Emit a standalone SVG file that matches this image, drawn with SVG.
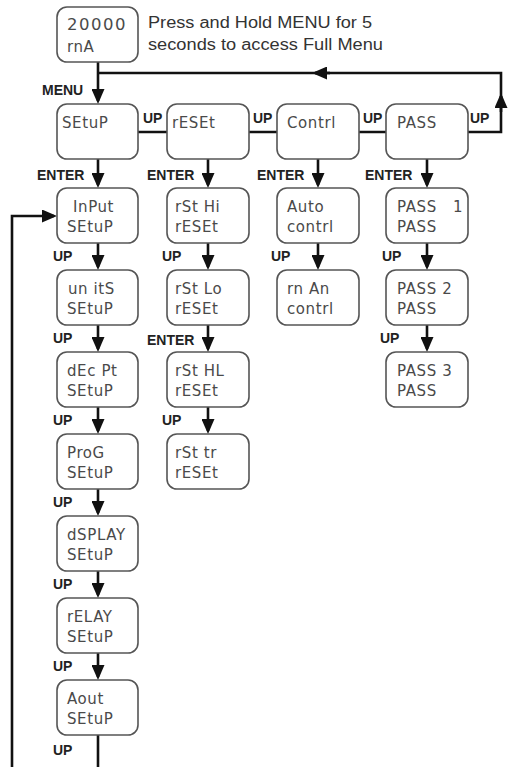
<svg xmlns="http://www.w3.org/2000/svg" width="508" height="767" viewBox="0 0 508 767">
<style>
.box{fill:#fff;stroke:#555;stroke-width:1.6}
.lcd{font-family:"DejaVu Sans",sans-serif;font-size:15px;fill:#4a4a4a;letter-spacing:0.6px}
.lbl{font-family:"Liberation Sans",Arial,sans-serif;font-weight:bold;font-size:14px;fill:#222}
.desc{font-family:"Liberation Sans",Arial,sans-serif;font-size:16px;fill:#333}
.ln{fill:none;stroke:#111;stroke-width:2.6}
.ar{fill:none;stroke:#111;stroke-width:2.6;marker-end:url(#ah)}
</style>
<defs>
<marker id="ah" markerUnits="userSpaceOnUse" markerWidth="15" markerHeight="13" refX="12" refY="6.5" orient="auto"><path d="M0,0 L15,6.5 L0,13 z" fill="#111"/></marker>
</defs>
<rect width="508" height="767" fill="#fff"/>

<g id="connectors">
<path class="ar" d="M98 62 V101"/>
<path class="ln" d="M468 132 H501 V73 H98"/>
<path class="ar" d="M501 112 V96"/>
<path class="ar" d="M330 73 H315"/>
<path class="ln" d="M138 132 H167 M249 132 H277 M359 132 H386"/>
<path class="ar" d="M98 159 V185"/>
<path class="ar" d="M208 159 V185"/>
<path class="ar" d="M318 159 V185"/>
<path class="ar" d="M427 159 V185"/>
<path class="ar" d="M98 243 V267"/>
<path class="ar" d="M98 325 V349"/>
<path class="ar" d="M98 407 V431"/>
<path class="ar" d="M98 489 V513"/>
<path class="ar" d="M98 571 V595"/>
<path class="ar" d="M98 653 V677"/>
<path class="ln" d="M98 735 V767"/>
<path class="ar" d="M12 767 V216 H54"/>
<path class="ar" d="M208 243 V267"/>
<path class="ar" d="M208 325 V349"/>
<path class="ar" d="M208 407 V431"/>
<path class="ar" d="M318 243 V267"/>
<path class="ar" d="M427 243 V267"/>
<path class="ar" d="M427 325 V349"/>
<text class="lbl" x="42" y="95">MENU</text>
<text class="lbl" x="37" y="180">ENTER</text>
<text class="lbl" x="147" y="180">ENTER</text>
<text class="lbl" x="257" y="180">ENTER</text>
<text class="lbl" x="365" y="180">ENTER</text>
<text class="lbl" x="143" y="123">UP</text>
<text class="lbl" x="253" y="123">UP</text>
<text class="lbl" x="363" y="123">UP</text>
<text class="lbl" x="470" y="123">UP</text>
<text class="lbl" x="53" y="261">UP</text>
<text class="lbl" x="53" y="343">UP</text>
<text class="lbl" x="53" y="425">UP</text>
<text class="lbl" x="53" y="507">UP</text>
<text class="lbl" x="53" y="589">UP</text>
<text class="lbl" x="53" y="671">UP</text>
<text class="lbl" x="53" y="755">UP</text>
<text class="lbl" x="162" y="261">UP</text>
<text class="lbl" x="147" y="345">ENTER</text>
<text class="lbl" x="162" y="425">UP</text>
<text class="lbl" x="271" y="261">UP</text>
<text class="lbl" x="382" y="261">UP</text>
<text class="lbl" x="380" y="343">UP</text>
</g>

<g id="note">
<text class="desc" x="148" y="28" textLength="224" lengthAdjust="spacingAndGlyphs">Press and Hold MENU for 5</text>
<text class="desc" x="148" y="50" textLength="235" lengthAdjust="spacingAndGlyphs">seconds to access Full Menu</text>
</g>

<g id="home"><rect class="box" x="57" y="7" width="81" height="55" rx="10"/><text class="lcd" x="67" y="30" style="font-size:16.5px;letter-spacing:1.5px">20000</text><text class="lcd" x="67" y="52">rnA</text></g>

<g id="setup"><rect class="box" x="57" y="104" width="81" height="55" rx="10"/><text class="lcd" x="62" y="128">SEtuP</text></g>
<g id="reset"><rect class="box" x="167" y="104" width="82" height="55" rx="10"/><text class="lcd" x="172" y="128">rESEt</text></g>
<g id="contrl"><rect class="box" x="277" y="104" width="82" height="55" rx="10"/><text class="lcd" x="287" y="128">Contrl</text></g>
<g id="pass"><rect class="box" x="386" y="104" width="82" height="55" rx="10"/><text class="lcd" x="397" y="128">PASS</text></g>

<g id="input"><rect class="box" x="57" y="188" width="81" height="55" rx="10"/><text class="lcd" x="73" y="212">InPut</text><text class="lcd" x="67" y="232">SEtuP</text></g>
<g id="units"><rect class="box" x="57" y="270" width="81" height="55" rx="10"/><text class="lcd" x="68" y="294">un itS</text><text class="lcd" x="67" y="314">SEtuP</text></g>
<g id="decpt"><rect class="box" x="57" y="352" width="81" height="55" rx="10"/><text class="lcd" x="67" y="376">dEc Pt</text><text class="lcd" x="67" y="396">SEtuP</text></g>
<g id="prog"><rect class="box" x="57" y="434" width="81" height="55" rx="10"/><text class="lcd" x="67" y="458">ProG</text><text class="lcd" x="67" y="478">SEtuP</text></g>
<g id="dsplay"><rect class="box" x="57" y="516" width="81" height="55" rx="10"/><text class="lcd" x="67" y="540">dSPLAY</text><text class="lcd" x="67" y="560">SEtuP</text></g>
<g id="relay"><rect class="box" x="57" y="598" width="81" height="55" rx="10"/><text class="lcd" x="67" y="622">rELAY</text><text class="lcd" x="67" y="642">SEtuP</text></g>
<g id="aout"><rect class="box" x="57" y="680" width="81" height="55" rx="10"/><text class="lcd" x="67" y="704">Aout</text><text class="lcd" x="67" y="724">SEtuP</text></g>

<g id="rsthi"><rect class="box" x="167" y="188" width="82" height="55" rx="10"/><text class="lcd" x="175" y="212">rSt Hi</text><text class="lcd" x="175" y="232">rESEt</text></g>
<g id="rstlo"><rect class="box" x="167" y="270" width="82" height="55" rx="10"/><text class="lcd" x="175" y="294">rSt Lo</text><text class="lcd" x="175" y="314">rESEt</text></g>
<g id="rsthl"><rect class="box" x="167" y="352" width="82" height="55" rx="10"/><text class="lcd" x="175" y="376">rSt HL</text><text class="lcd" x="175" y="396">rESEt</text></g>
<g id="rsttr"><rect class="box" x="167" y="434" width="82" height="55" rx="10"/><text class="lcd" x="175" y="458">rSt tr</text><text class="lcd" x="175" y="478">rESEt</text></g>

<g id="auto"><rect class="box" x="277" y="188" width="82" height="55" rx="10"/><text class="lcd" x="287" y="212">Auto</text><text class="lcd" x="287" y="232">contrl</text></g>
<g id="rnan"><rect class="box" x="277" y="270" width="82" height="55" rx="10"/><text class="lcd" x="287" y="294">rn An</text><text class="lcd" x="287" y="314">contrl</text></g>

<g id="pass1"><rect class="box" x="386" y="188" width="82" height="55" rx="10"/><text class="lcd" x="397" y="212">PASS <tspan x="453">1</tspan></text><text class="lcd" x="397" y="232">PASS</text></g>
<g id="pass2"><rect class="box" x="386" y="270" width="82" height="55" rx="10"/><text class="lcd" x="397" y="294">PASS 2</text><text class="lcd" x="397" y="314">PASS</text></g>
<g id="pass3"><rect class="box" x="386" y="352" width="82" height="55" rx="10"/><text class="lcd" x="397" y="376">PASS 3</text><text class="lcd" x="397" y="396">PASS</text></g>
</svg>
